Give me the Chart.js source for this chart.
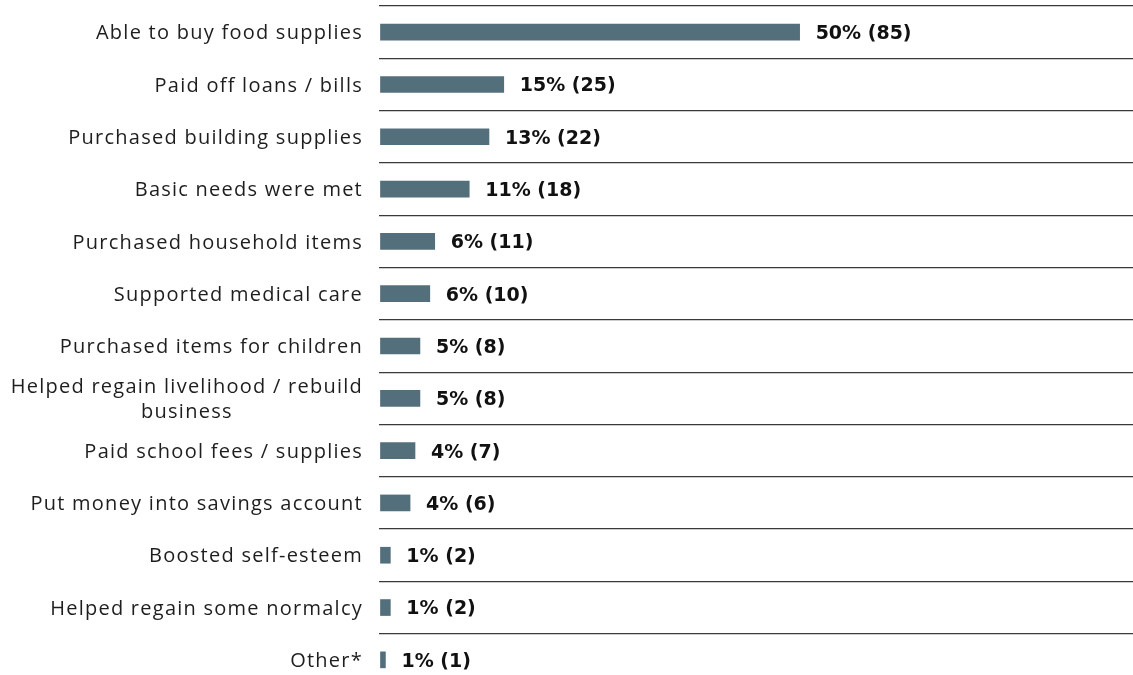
<!DOCTYPE html>
<html>
<head>
<meta charset="utf-8">
<script src="https://cdn.jsdelivr.net/npm/chart.js@4"></script>
<style>
  html, body { margin: 0; padding: 0; background: #fff; overflow: hidden; }
  #wrap { width: 1133px; height: 690px; position: relative; }
</style>
</head>
<body>
<div id="wrap"><canvas id="uses"></canvas></div>
<script>
    var categories = [
        'Able to buy food supplies',
        'Paid off loans / bills',
        'Purchased building supplies',
        'Basic needs were met',
        'Purchased household items',
        'Supported medical care',
        'Purchased items for children',
        ['Helped regain livelihood / rebuild', 'business'],
        'Paid school fees / supplies',
        'Put money into savings account',
        'Boosted self-esteem',
        'Helped regain some normalcy',
        'Other*'
    ];
    var counts = [85, 25, 22, 18, 11, 10, 8, 8, 7, 6, 2, 2, 1];
    var percents = [50, 15, 13, 11, 6, 6, 5, 5, 4, 4, 1, 1, 1];

    var labelFont = '20px "Open Sans", sans-serif';
    var valueFont = 'bold 19px "DejaVu Sans", sans-serif';

// category names on the left, drawn by hand so two-line labels stay centred
var categoryLabels = {
    id: 'categoryLabels',
    afterDraw: function(chart) {
        var ctx = chart.ctx;
        var yScale = chart.scales.y;
        var right = chart.chartArea.left - 16;
        ctx.save();
        ctx.font = labelFont;
        ctx.letterSpacing = '1.25px';
        ctx.fillStyle = '#1e1e1e';
        ctx.textBaseline = 'middle';
        categories.forEach(function(lbl, i) {
            var cy = yScale.getPixelForValue(i) + 1.5;
            if (Array.isArray(lbl)) {
                var lh = 25;
                var widest = Math.max.apply(null, lbl.map(function(t) { return ctx.measureText(t).width; }));
                var mid = right - widest / 2;
                ctx.textAlign = 'center';
                lbl.forEach(function(t, k) {
                    ctx.fillText(t, mid, cy + (k - (lbl.length - 1) / 2) * lh);
                });
            } else {
                ctx.textAlign = 'right';
                ctx.fillText(lbl, right, cy);
            }
        });
        ctx.restore();
    }
};

// "50% (85)" style labels after each bar
var valueLabels = {
    id: 'valueLabels',
    afterDatasetsDraw: function(chart) {
        var ctx = chart.ctx;
        var meta = chart.getDatasetMeta(0);
        ctx.save();
        ctx.font = valueFont;
        ctx.fillStyle = '#111';
        ctx.textAlign = 'left';
        ctx.textBaseline = 'middle';
        meta.data.forEach(function(bar, i) {
            ctx.fillText(percents[i] + '% (' + counts[i] + ')', bar.x + 16, bar.y + 2);
        });
        ctx.restore();
    }
};

window.onload = function() {
    var ctx = document.getElementById('uses').getContext('2d');
    window.usesChart = new Chart(ctx, {
        type: 'bar',
        data: {
            labels: categories,
            datasets: [{
                data: counts,
                backgroundColor: '#546f7c',
                borderWidth: 0,
                barThickness: 16
            }]
        },
        options: {
            indexAxis: 'y',
            responsive: true,
            maintainAspectRatio: false,
            animation: false,
            layout: { padding: { top: 6, bottom: 4, left: 0, right: 0 } },
            plugins: {
                legend: { display: false },
                tooltip: { enabled: false }
            },
            scales: {
                x: {
                    display: false,
                    min: -0.3,
                    max: 152.6
                },
                y: {
                    offset: true,
                    border: { display: false },
                    grid: {
                        offset: true,
                        drawTicks: false,
                        color: '#3a3a3a',
                        lineWidth: 1.2
                    },
                    ticks: { display: false },
                    afterFit: function(scale) { scale.width = 379; }
                }
            }
        },
        plugins: [categoryLabels, valueLabels]
    });
};
</script>
</body>
</html>
